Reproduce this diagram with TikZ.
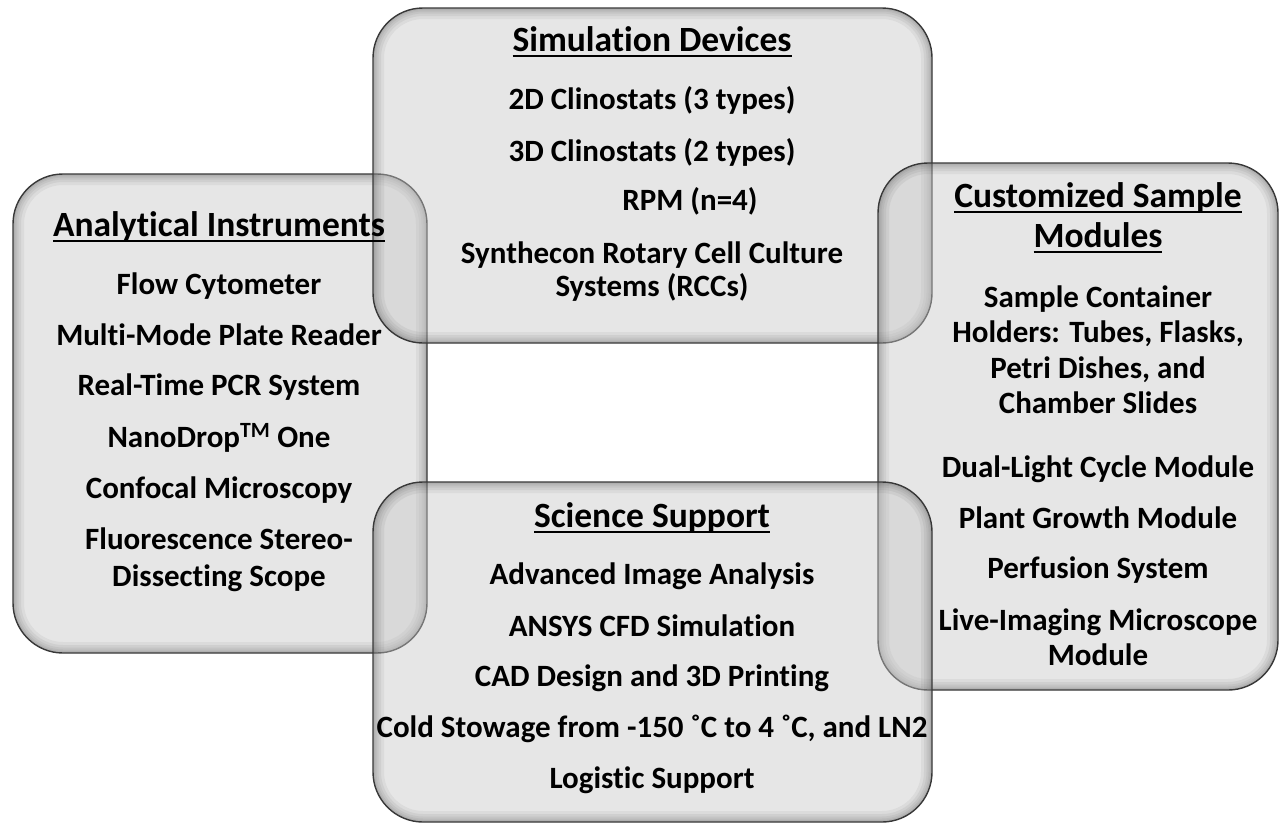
\documentclass[tikz,border=0pt]{standalone}
\usepackage{fontspec}
\setmainfont{Carlito}[Ligatures=NoCommon]
\begin{document}
\begin{tikzpicture}[x=1pt,y=-1pt,
  panelfill/.style={fill=black!22,fill opacity=0.44},
  panelline/.style={draw=black!78,line width=1.4pt},
  item/.style={anchor=base,inner sep=0pt,font=\fontsize{31}{36}\selectfont\bfseries},
  head/.style={anchor=base,inner sep=0pt,font=\fontsize{35.5}{41}\selectfont\bfseries}]
% underlined heading text
\newcommand\hdul[1]{\setbox0=\hbox{#1}\rlap{\rule[-0.17em]{\wd0}{0.06em}}\box0}
% rounded panel with a soft inner shade along its edge
\newcommand\panel[4]{%
  \fill[panelfill,rounded corners=50pt] (#1,#2) rectangle (#3,#4);
  \begin{scope}
    \clip[rounded corners=50pt] (#1,#2) rectangle (#3,#4);
    \foreach \w in {22,16,11,7,4}
      \draw[black,opacity=0.05,line width=\w pt,rounded corners=50pt] (#1,#2) rectangle (#3,#4);
  \end{scope}
  \draw[panelline,rounded corners=50pt] (#1,#2) rectangle (#3,#4);}
\useasboundingbox (0,0) rectangle (1281,825);

\panel{13}{174}{427}{653}
\panel{373}{8}{932}{343}
\panel{878}{163}{1278}{690}
\panel{373}{482}{932}{822}

% Simulation Devices
\node[head] (simT) at (652,51) {\hdul{Simulation Devices}};
\node[item] (sim1) at (652,109) {2D Clinostats (3 types)};
\node[item] (sim2) at (652,161) {3D Clinostats (2 types)};
\node[item] (sim3) at (690,210) {RPM (n=4)};
\node[item] (sim4) at (652,263) {Synthecon Rotary Cell Culture};
\node[item] (sim5) at (652,296) {Systems (RCCs)};

% Analytical Instruments
\node[head] (anaT) at (219,236) {\hdul{Analytical Instruments}};
\node[item] (ana1) at (219,294) {Flow Cytometer};
\node[item] (ana2) at (219,345) {Multi-Mode Plate Reader};
\node[item] (ana3) at (219,395) {Real-Time PCR System};
\node[item] (ana4) at (219,447) {NanoDrop\textsuperscript{TM} One};
\node[item] (ana5) at (219,498) {Confocal Microscopy};
\node[item] (ana6) at (219,549) {Fluorescence Stereo-};
\node[item] (ana7) at (219,586) {Dissecting Scope};

% Customized Sample Modules
\node[head] (cusT1) at (1098,207) {\hdul{Customized Sample}};
\node[head] (cusT2) at (1098,247) {\hdul{Modules}};
\node[item] (cus1) at (1098,307) {Sample Container};
\node[item] (cus2) at (1098,342) {Holders: Tubes, Flasks,};
\node[item] (cus3) at (1098,378) {Petri Dishes, and};
\node[item] (cus4) at (1098,413) {Chamber Slides};
\node[item] (cus5) at (1098,477) {Dual-Light Cycle Module};
\node[item] (cus6) at (1098,528) {Plant Growth Module};
\node[item] (cus7) at (1098,578) {Perfusion System};
\node[item] (cus8) at (1098,630) {Live-Imaging Microscope};
\node[item] (cus9) at (1098,665) {Module};

% Science Support
\node[head] (sciT) at (652,527) {\hdul{Science Support}};
\node[item] (sci1) at (652,584) {Advanced Image Analysis};
\node[item] (sci2) at (652,636) {ANSYS CFD Simulation};
\node[item] (sci3) at (652,686) {CAD Design and 3D Printing};
\node[item] (sci4) at (652,737) {Cold Stowage from -150 ˚C to 4 ˚C, and LN2};
\node[item] (sci5) at (652,788) {Logistic Support};
\end{tikzpicture}
\end{document}
